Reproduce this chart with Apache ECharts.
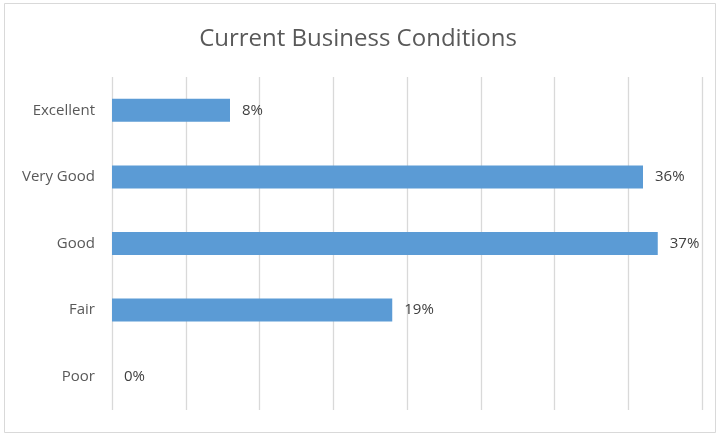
<!DOCTYPE html>
<html>
<head>
<meta charset="utf-8">
<script src="https://cdn.jsdelivr.net/npm/echarts@6/dist/echarts.min.js"></script>
<style>html,body{margin:0;padding:0;background:#fff}#c{width:716px;height:434px}</style>
</head>
<body>
<div id="c"></div>
<script>
var categories = ['Excellent', 'Very Good', 'Good', 'Fair', 'Poor'];
var values = [8, 36, 37, 19, 0];
var titleText = 'Current Business Conditions';

var chart = echarts.init(document.getElementById('c'), null, {renderer: 'canvas'});
chart.setOption({
  animation: false,
  backgroundColor: '#ffffff',
  graphic: [{
    type: 'rect',
    shape: {x: 4.5, y: 3.5, width: 711, height: 429},
    style: {fill: 'none', stroke: '#d9d9d9', lineWidth: 1}
  }],
  title: {
    text: titleText,
    left: 'center',
    top: 22,
    textStyle: {fontFamily: 'Open Sans, sans-serif', fontSize: 24, fontWeight: 'normal', color: '#595959'}
  },
  grid: {left: 112, right: 14, top: 77, bottom: 24, containLabel: false},
  xAxis: {
    type: 'value', min: 0, max: 40, interval: 5,
    axisLabel: {show: false},
    axisLine: {show: false},
    axisTick: {show: false},
    splitLine: {show: true, lineStyle: {color: '#d9d9d9', width: 1.3}}
  },
  yAxis: {
    type: 'category',
    inverse: true,
    data: categories,
    axisLine: {show: false},
    axisTick: {show: false},
    axisLabel: {fontFamily: 'Open Sans, sans-serif', fontSize: 15, color: '#595959', margin: 17}
  },
  series: [{
    type: 'bar',
    data: values,
    barWidth: 23,
    itemStyle: {color: '#5b9bd5'},
    label: {show: true, position: 'right', distance: 12, formatter: '{c}%', fontFamily: 'Open Sans, sans-serif', fontSize: 15, color: '#404040'}
  }]
});
</script>
</body>
</html>
